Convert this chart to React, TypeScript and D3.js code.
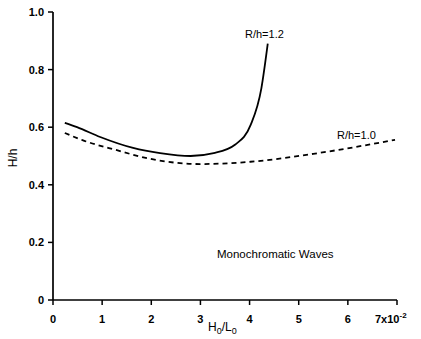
import * as d3 from "d3";

const xTicks = [0, 1, 2, 3, 4, 5, 6, 7];
const xTickLabels = ["0", "1", "2", "3", "4", "5", "6", "7x10"];
const yTicks = [0, 0.2, 0.4, 0.6, 0.8, 1.0];
const yTickLabels = ["0", "0.2", "0.4", "0.6", "0.8", "1.0"];

// R/h = 1.2 (solid)
const solidX = [0.24, 0.49, 0.96, 1.63, 2.18, 2.8, 3.27, 3.71, 4.02, 4.24, 4.37];
const solidY = [0.615, 0.6, 0.566, 0.528, 0.51, 0.5, 0.51, 0.54, 0.607, 0.735, 0.89];

// R/h = 1.0 (dashed)
const dashX = [0.24, 0.6, 1.3, 1.98, 3.0, 4.02, 5.39, 6.96];
const dashY = [0.58, 0.555, 0.52, 0.49, 0.472, 0.48, 0.51, 0.556];

const W = 421;
const H = 339;
const left = 53;
const right = 397;
const top = 12;
const bottom = 300;
const font = "'Liberation Sans', Arial, sans-serif";

export default function App() {
  const x = d3.scaleLinear().domain([0, 7]).range([left, right]);
  const y = d3.scaleLinear().domain([0, 1]).range([bottom, top]);

  const line = d3
    .line<[number, number]>()
    .x((d) => x(d[0]))
    .y((d) => y(d[1]))
    .curve(d3.curveMonotoneX);

  const solid = solidX.map((v, i) => [v, solidY[i]] as [number, number]);
  const dashed = dashX.map((v, i) => [v, dashY[i]] as [number, number]);
  const last = xTicks.length - 1;

  return (
    <svg
      width={W}
      height={H}
      style={{ position: "absolute", left: 0, top: 0, background: "#fff" }}
      fontFamily={font}
    >
      {/* axes */}
      <line x1={left} x2={left} y1={top} y2={bottom} stroke="#000" strokeWidth={1.7} />
      <line x1={left} x2={right} y1={bottom} y2={bottom} stroke="#000" strokeWidth={1.7} />

      {yTicks.map((t, i) => (
        <g key={"y" + i}>
          <line x1={left - 5} x2={left} y1={y(t)} y2={y(t)} stroke="#000" strokeWidth={1.5} />
          <text x={left - 9} y={y(t) + 4} textAnchor="end" fontSize={11} fontWeight="bold">
            {yTickLabels[i]}
          </text>
        </g>
      ))}

      {xTicks.map((t, i) => (
        <g key={"x" + i}>
          <line x1={x(t)} x2={x(t)} y1={bottom} y2={bottom + 5} stroke="#000" strokeWidth={1.5} />
          <text
            x={i === last ? x(t) - 22 : x(t)}
            y={bottom + 23}
            textAnchor={i === last ? "start" : "middle"}
            fontSize={11}
            fontWeight="bold"
          >
            {xTickLabels[i]}
            {i === last && (
              <tspan dy={-5} fontSize={8}>
                -2
              </tspan>
            )}
          </text>
        </g>
      ))}

      {/* axis labels */}
      <text x={208} y={331} fontSize={12}>
        H<tspan dy={3} fontSize={9}>0</tspan>
        <tspan dy={-3}>/L</tspan>
        <tspan dy={3} fontSize={9}>0</tspan>
      </text>
      <text
        transform={`translate(17,${(top + bottom) / 2 + 2}) rotate(-90)`}
        textAnchor="middle"
        fontSize={12}
      >
        H/h
      </text>

      {/* curves */}
      <path d={line(solid) ?? ""} fill="none" stroke="#000" strokeWidth={1.8} />
      <path
        d={line(dashed) ?? ""}
        fill="none"
        stroke="#000"
        strokeWidth={1.8}
        strokeDasharray="5,4"
      />

      {/* annotations */}
      <text x={245} y={38} fontSize={11}>R/h=1.2</text>
      <text x={337} y={139} fontSize={11}>R/h=1.0</text>
      <text x={217} y={258} fontSize={11.5}>Monochromatic Waves</text>
    </svg>
  );
}
